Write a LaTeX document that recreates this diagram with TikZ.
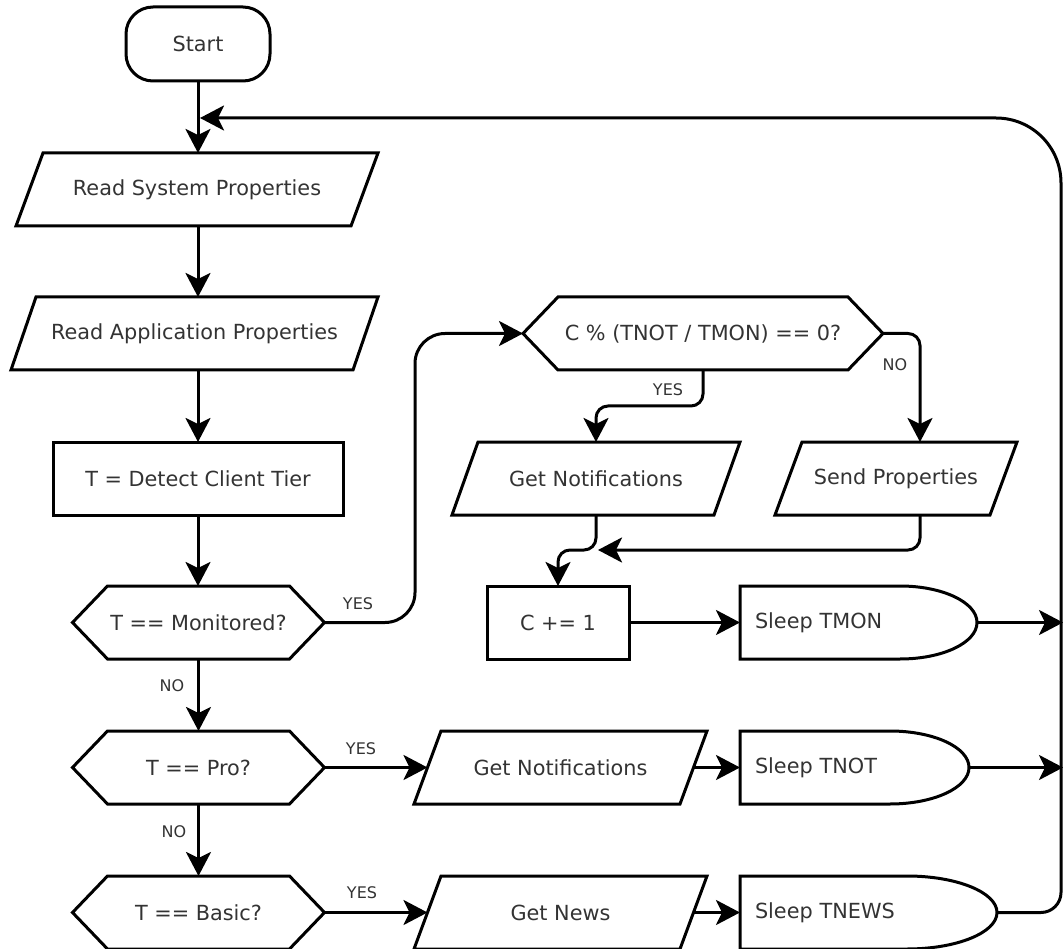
\documentclass[tikz,border=0pt]{standalone}
\usepackage{fontspec}
\setmainfont{DejaVu Sans}
\usetikzlibrary{arrows.meta,calc}
\newcommand{\hexout}[2]{\draw (#1.west) -- ([xshift=#2]#1.north west) -- ([xshift=-#2]#1.north east) -- (#1.east) -- ([xshift=-#2]#1.south east) -- ([xshift=#2]#1.south west) -- cycle;}
\newcommand{\paraout}[2]{\draw ([xshift=#2]#1.north west) -- (#1.north east) -- ([xshift=-#2]#1.south east) -- (#1.south west) -- cycle;}
\newcommand{\sleepout}[2]{\draw (#1.south west) -- (#1.north west) -- ([xshift=-#2]#1.north east) .. controls ([xshift=-0.4477*#2]#1.north east) and ($(#1.east)!0.5523!(#1.north east)$) .. (#1.east) .. controls ($(#1.east)!0.5523!(#1.south east)$) and ([xshift=-0.4477*#2]#1.south east) .. ([xshift=-#2]#1.south east) -- cycle;}
\begin{document}
\begin{tikzpicture}[x=1pt,y=-1pt,
  line width=3pt, line join=miter,
  every node/.style={font=\fontsize{20.8}{25}\selectfont, text=black!80, inner sep=0pt, outer sep=0pt},
  box/.style={minimum height=73pt},
  sleepbox/.style={minimum height=73pt, inner xsep=15pt, align=left},
  lbl/.style={font=\fontsize{16}{19}\selectfont},
  arr/.style={-{Stealth[length=24pt,width=25pt,inset=6pt]}},
]
\useasboundingbox (0,0) rectangle (1063,949);

% ---- nodes ----
\node[draw, rounded corners=27pt, minimum width=144pt, minimum height=74pt] (start) at (198,44) {Start};
\node[box, minimum width=362pt] (rsp) at (197,189.5) {Read System Properties};
\paraout{rsp}{27pt}
\node[box, minimum width=367pt] (rap) at (194.5,333.5) {Read Application Properties};
\paraout{rap}{25pt}
\node[box, draw, minimum width=290pt] (dct) at (198,478.5) {T = Detect Client Tier};
\node[box, minimum width=252pt] (mon) at (198.5,622.5) {T == Monitored?};
\hexout{mon}{35pt}
\node[box, minimum width=252pt] (pro) at (198.5,767.5) {T == Pro?};
\hexout{pro}{35pt}
\node[box, minimum width=252pt] (basic) at (198.5,912.5) {T == Basic?};
\hexout{basic}{35pt}

\node[box, minimum width=360pt] (cmod) at (703,333.5) {C \% (TNOT / TMON) == 0?};
\hexout{cmod}{35pt}
\node[box, minimum width=288pt] (gn1) at (596,478.5) {Get Notifications};
\paraout{gn1}{26pt}
\node[box, minimum width=242pt] (sp) at (896,478.5) {Send Properties};
\paraout{sp}{27pt}
\node[box, draw, minimum width=142pt] (cplus) at (558,622.5) {C += 1};

\node[sleepbox, text width=207pt] (tmon) at (858.5,622.5) {Sleep TMON};
\sleepout{tmon}{77pt}
\node[box, minimum width=293pt] (gn2) at (560.5,767.5) {Get Notifications};
\paraout{gn2}{27pt}
\node[sleepbox, text width=199pt] (tnot) at (854.5,767.5) {Sleep TNOT};
\sleepout{tnot}{79pt}
\node[box, minimum width=293pt] (news) at (560.5,912.5) {Get News};
\paraout{news}{27pt}
\node[sleepbox, text width=227pt] (tnews) at (868.5,912.5) {Sleep TNEWS};
\sleepout{tnews}{90pt}

% ---- labels ----
\node[lbl] (lyes1) at (358,604) {YES};
\node[lbl] (lno1) at (172,686) {NO};
\node[lbl] (lyes2) at (361,749) {YES};
\node[lbl] (lno2) at (174,832) {NO};
\node[lbl] (lyes3) at (362,893) {YES};
\node[lbl] (lyes4) at (668,390) {YES};
\node[lbl] (lno3) at (895,365) {NO};

% ---- coordinates ----
\coordinate (loopin) at (200,118);
\coordinate (join) at (598,550);
\coordinate (out1) at (1063,622.5);
\coordinate (out2) at (1063,767.5);

% ---- connectors ----
\draw[arr] (start.south) -- (start.south |- rsp.north);
\draw[arr] (start.south |- rsp.south) -- (start.south |- rap.north);
\draw[arr] (start.south |- rap.south) -- (start.south |- dct.north);
\draw[arr] (dct.south) -- (dct.south |- mon.north);
\draw[arr] (mon.south) -- (pro.north);
\draw[arr] (pro.south) -- (basic.north);

\draw[arr, rounded corners=30pt] (mon.east) -- (415,622.5) -- (415,333.5) -- (cmod.west);
\draw[arr, rounded corners=12pt] (cmod.south) -- (703,406) -- (596,406) -- (gn1.north);
\draw[arr, rounded corners=12pt] (cmod.east) -- (920,333.5) -- ([xshift=24pt]sp.north);
\draw[arr, rounded corners=12pt] (gn1.south) -- (596,550) -- (558,550) -- (cplus.north);
\draw[arr, rounded corners=12pt] ([xshift=24pt]sp.south) -- (920,550) -- (join);
\draw[arr] (cplus.east) -- (tmon.west);
\draw[arr] (tmon.east) -- (out1);

\draw[arr] (pro.east) -- ([xshift=13.5pt]gn2.west);
\draw[arr] ([xshift=-13.5pt]gn2.east) -- (tnot.west);
\draw[arr] (tnot.east) -- (out2);

\draw[arr] (basic.east) -- ([xshift=13.5pt]news.west);
\draw[arr] ([xshift=-13.5pt]news.east) -- (tnews.west);
\draw[arr] (tnews.east) -- (1041,912.5) .. controls (1052,912.5) and (1061,903.5) .. (1061,892.5) -- (1061,183) .. controls (1061,147) and (1032,118) .. (996,118) -- (loopin);
\end{tikzpicture}
\end{document}
